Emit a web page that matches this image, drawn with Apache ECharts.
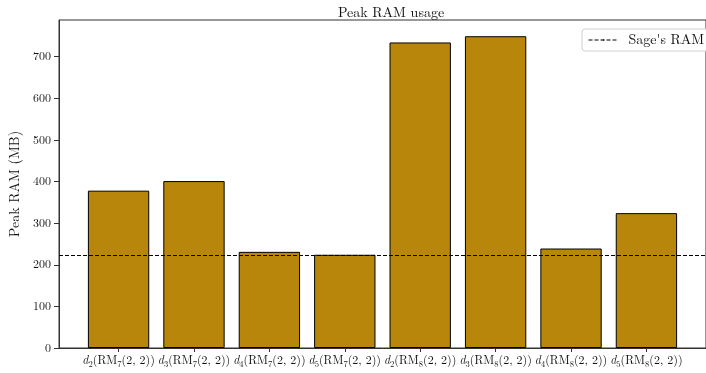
<!DOCTYPE html>
<html>
<head>
<meta charset="utf-8">
<script src="https://cdn.jsdelivr.net/npm/echarts@6/dist/echarts.min.js"></script>
<style>
html,body{margin:0;padding:0;background:#fff;}
#c{width:706px;height:373px;}
</style>
</head>
<body>
<div id="c"></div>
<script>
// ---- data ----
const dIndex = ['2','3','4','5','2','3','4','5'];
const rmIndex = ['7','7','7','7','8','8','8','8'];
const peakRam = [378, 401, 231, 224, 734, 749, 239, 324];
const sageRam = 224;
const yTicks = [0, 100, 200, 300, 400, 500, 600, 700];
const title = 'Peak RAM usage';
const yName = 'Peak RAM (MB)';
const legendName = "Sage's RAM";

// ---- layout ----
const gridLeft = 57, gridTop = 20, gridWidth = 658, gridHeight = 328;
const xMin = -0.79, xMax = peakRam.length - 1 + 0.79;
const yMax = 788;
const barW = 0.8 * gridWidth / (xMax - xMin);
const xIdx = peakRam.map((_, i) => i);

const chart = echarts.init(document.getElementById('c'), null, {renderer: 'canvas'});
const serif = '"Latin Modern Roman", "CMU Serif", "Liberation Serif", "DejaVu Serif", serif';

chart.setOption({
  backgroundColor: '#fff',
  animation: false,
  title: {
    text: title,
    left: gridLeft + gridWidth / 2,
    textAlign: 'center',
    top: 1,
    textStyle: {fontFamily: serif, fontSize: 14, fontWeight: 'normal', color: '#111'}
  },
  legend: {
    left: 582,
    top: 29,
    padding: [4, 8, 4, 6],
    itemWidth: 30,
    itemHeight: 2,
    backgroundColor: '#fff',
    borderColor: '#d0d0d0',
    borderWidth: 1,
    borderRadius: 3,
    data: [legendName],
    lineStyle: {width: 1, type: [4, 2], color: '#000'},
    textStyle: {fontFamily: serif, fontSize: 14, color: '#111', padding: [0, 0, 0, 5]}
  },
  grid: {
    left: gridLeft, top: gridTop, width: gridWidth, height: gridHeight,
    show: true, borderColor: '#333', borderWidth: 1, backgroundColor: 'transparent'
  },
  xAxis: {
    type: 'value',
    min: xMin,
    max: xMax,
    splitLine: {show: false},
    axisLine: {show: true, onZero: false, lineStyle: {color: '#333', width: 1}},
    axisTick: {show: true, length: 4, lineStyle: {color: '#333'}, customValues: xIdx},
    axisLabel: {
      customValues: xIdx,
      margin: 5,
      color: '#111',
      fontFamily: serif,
      fontSize: 12,
      formatter: function (v) {
        const i = Math.round(v);
        return '{it|d}{sub|' + dIndex[i] + '}{n|(RM}{sub|' + rmIndex[i] + '}{n|(2, 2))}';
      },
      rich: {
        it: {fontFamily: serif, fontSize: 12, fontStyle: 'italic', color: '#111', lineHeight: 14},
        n: {fontFamily: serif, fontSize: 12, color: '#111', lineHeight: 14},
        sub: {fontFamily: serif, fontSize: 8.5, color: '#111', lineHeight: 14, verticalAlign: 'bottom', padding: [0, 0, -2, 0]}
      }
    }
  },
  yAxis: {
    type: 'value',
    min: 0,
    max: yMax,
    name: yName,
    nameLocation: 'middle',
    nameGap: 37,
    nameTextStyle: {fontFamily: serif, fontSize: 14, color: '#111'},
    splitLine: {show: false},
    axisLine: {show: true, onZero: false, lineStyle: {color: '#333', width: 1}},
    axisTick: {show: true, length: 5, lineStyle: {color: '#333'}, customValues: yTicks},
    axisLabel: {customValues: yTicks, margin: 8, color: '#111', fontFamily: serif, fontSize: 12}
  },
  series: [
    {
      type: 'bar',
      name: 'peak',
      barWidth: barW,
      data: peakRam.map((v, i) => [i, v]),
      itemStyle: {color: '#B8860B', borderColor: '#000', borderWidth: 1}
    },
    {
      type: 'line',
      name: legendName,
      data: [],
      symbol: 'none',
      lineStyle: {type: [4, 2], color: '#000', width: 1},
      itemStyle: {color: '#000'},
      markLine: {
        silent: true,
        symbol: ['none', 'none'],
        label: {show: false},
        lineStyle: {type: [4, 2], color: '#000', width: 1},
        data: [{yAxis: sageRam}]
      }
    }
  ]
});
</script>
</body>
</html>
